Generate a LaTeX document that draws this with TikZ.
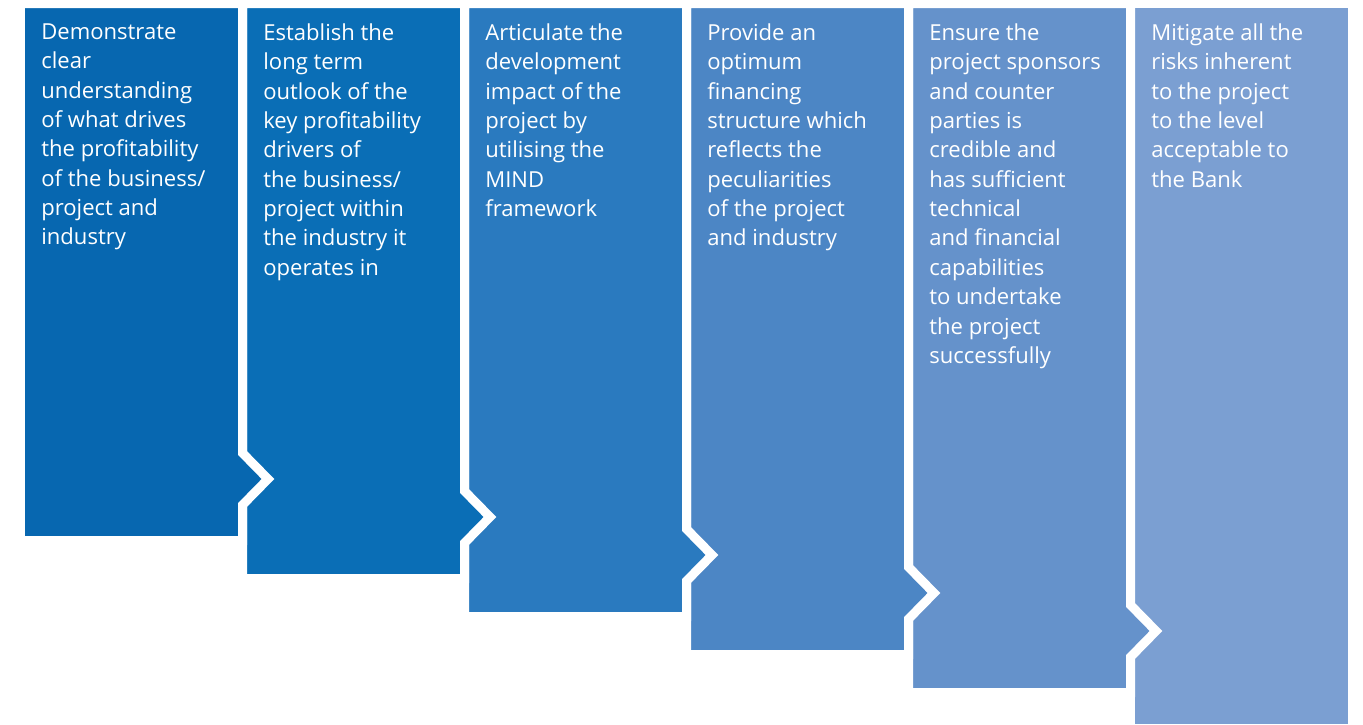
\documentclass[tikz,border=0pt]{standalone}
\usepackage{fontspec}
\setmainfont{Open Sans}
\usepackage{tikz}

\definecolor{stepA}{HTML}{0767B0}
\definecolor{stepB}{HTML}{0A6EB6}
\definecolor{stepC}{HTML}{2A7ABF}
\definecolor{stepD}{HTML}{4C86C5}
\definecolor{stepE}{HTML}{6592CB}
\definecolor{stepF}{HTML}{7B9FD2}

\begin{document}
\begin{tikzpicture}[x=0.02cm,y=-0.02cm]
\tikzset{steppanel/.style={draw=white, line width=0.18cm, line join=miter},
  steptext/.style={anchor=north west, inner sep=0pt, align=left, text=white,
    font=\fontsize{12.55}{16.7}\selectfont}}
\useasboundingbox (0,0) rectangle (1363,724);
% panels, drawn from right to left so each tip sits on the next panel
\draw [steppanel, fill=stepF] (1130.5,3.5) -- (1352.5,3.5) -- (1352.5,728.5) -- (1130.5,728.5) -- cycle;
\draw [steppanel, fill=stepE] (908.5,3.5) -- (1130.5,3.5) -- (1130.5,605) -- (1156,631) -- (1130.5,657) -- (1130.5,692.5) -- (908.5,692.5) -- cycle;
\draw [steppanel, fill=stepD] (686.5,3.5) -- (908.5,3.5) -- (908.5,567) -- (934,593) -- (908.5,619) -- (908.5,654.5) -- (686.5,654.5) -- cycle;
\draw [steppanel, fill=stepC] (464.5,3.5) -- (686.5,3.5) -- (686.5,529) -- (712,555) -- (686.5,581) -- (686.5,616.5) -- (464.5,616.5) -- cycle;
\draw [steppanel, fill=stepB] (242.5,3.5) -- (464.5,3.5) -- (464.5,491) -- (490,517) -- (464.5,543) -- (464.5,578.5) -- (242.5,578.5) -- cycle;
\draw [steppanel, fill=stepA] (20.5,3.5) -- (242.5,3.5) -- (242.5,453) -- (268,479) -- (242.5,505) -- (242.5,540.5) -- (20.5,540.5) -- cycle;
% texts
\node [steptext] (understand) at (41,23.5) {Demonstrate\\clear\\understanding\\of what drives\\the profitability\\of the business/\\project and\\industry};
\node [steptext] (outlook) at (263,23.5) {Establish the\\long term\\outlook of the\\key profitability\\drivers of\\the business/\\project within\\the industry it\\operates in};
\node [steptext] (impact) at (485,23.5) {Articulate the\\development\\impact of the\\project by\\utilising the\\MIND\\framework};
\node [steptext] (financing) at (707,23.5) {Provide an\\optimum\\financing\\structure which\\reflects the\\peculiarities\\of the project\\and industry};
\node [steptext] (sponsors) at (929,23.5) {Ensure the\\project sponsors\\and counter\\parties is\\credible and\\has sufficient\\technical\\and financial\\capabilities\\to undertake\\the project\\successfully};
\node [steptext] (risks) at (1151,23.5) {Mitigate all the\\risks inherent\\to the project\\to the level\\acceptable to\\the Bank};
\end{tikzpicture}
\end{document}
